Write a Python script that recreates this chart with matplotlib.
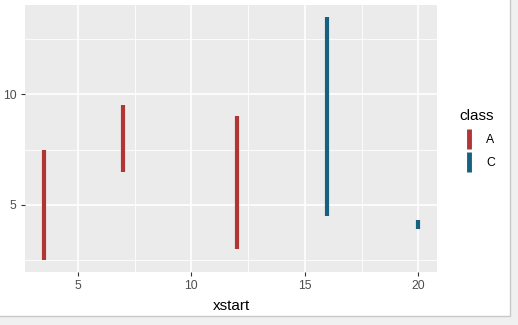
import matplotlib.pyplot as plt
from matplotlib.lines import Line2D
from matplotlib.patches import Rectangle
from matplotlib.ticker import MultipleLocator

plt.rcParams['font.family'] = ['Liberation Sans', 'DejaVu Sans']

# segment data
xstart = [3.5, 7, 12, 16, 20]
ystart = [2.5, 6.5, 3, 4.5, 3.9]
yend = [7.5, 9.5, 9, 13.5, 4.3]
cls = ['A', 'A', 'A', 'C', 'C']
classes = ['A', 'C']
colors = {'A': '#B03533', 'C': '#15617F'}

fig = plt.figure(figsize=(5.18, 3.25), dpi=100)
fig.patch.set_facecolor('#F0F0F0')
fig.patches.append(Rectangle((-0.01, 1 - 316 / 325), 0.01 + 510 / 518, 1.1,
                             transform=fig.transFigure, facecolor='white',
                             edgecolor='#C8C8C8', lw=1, zorder=-5))

ax = fig.add_axes([25 / 518, 1 - 272 / 325, 412 / 518, 267 / 325])
ax.set_zorder(2)
ax.set_facecolor('#EBEBEB')
for s in ax.spines.values():
    s.set_visible(False)

for x, y0, y1, c in zip(xstart, ystart, yend, cls):
    ax.plot([x, x], [y0, y1], color=colors[c], lw=3, solid_capstyle='butt', zorder=3)

ax.set_xlim(2.675, 20.825)
ax.set_ylim(1.95, 14.05)
ax.xaxis.set_major_locator(MultipleLocator(5))
ax.yaxis.set_major_locator(MultipleLocator(5))
ax.xaxis.set_minor_locator(MultipleLocator(2.5))
ax.yaxis.set_minor_locator(MultipleLocator(2.5))
ax.grid(which='major', color='white', lw=1.2)
ax.grid(which='minor', color='white', lw=0.6)
ax.set_axisbelow(True)
ax.tick_params(which='major', length=3, width=0.8, color='#333333',
               labelcolor='#4D4D4D', labelsize=8.8, pad=3)
ax.tick_params(which='minor', length=0)
ax.set_xlabel('xstart', fontsize=11, labelpad=5)

handles = [Line2D([], [], color=colors[k], marker='|', linestyle='None',
                  markersize=15, markeredgewidth=3.5) for k in classes]
leg = ax.legend(handles, classes, title='class', loc='center left',
                bbox_to_anchor=(459 / 518, 1 - 139 / 325), bbox_transform=fig.transFigure,
                frameon=False, fontsize=8.8, title_fontsize=11,
                handlelength=1.7, handletextpad=0.5, labelspacing=0.9,
                borderaxespad=0, borderpad=0)
leg._legend_box.align = 'left'

fig.savefig('out.png', dpi=100)
